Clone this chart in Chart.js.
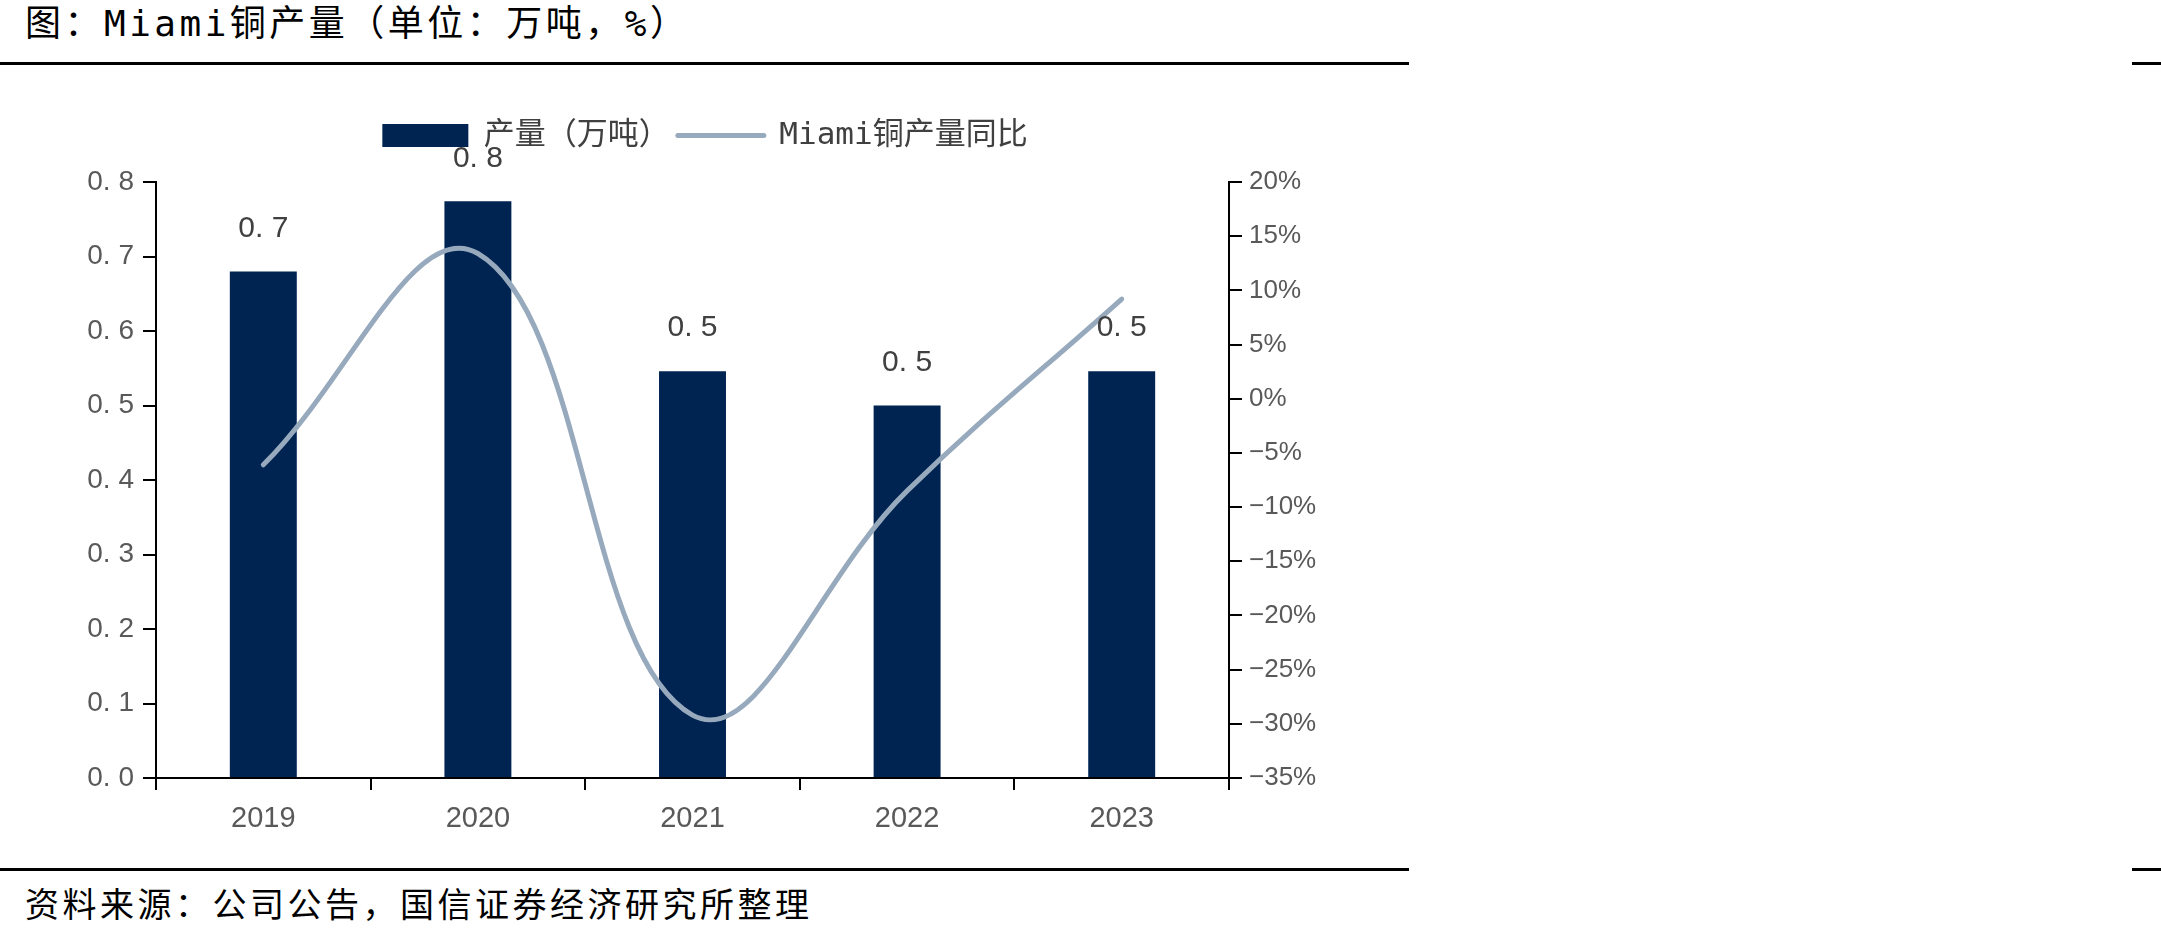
<!DOCTYPE html>
<html>
<head>
<meta charset="utf-8">
<script src="https://cdn.jsdelivr.net/npm/chart.js@4.4.0/dist/chart.umd.min.js"></script>
<style>
  html, body { margin: 0; padding: 0; background: #fff; }
  body { width: 2161px; height: 941px; position: relative; overflow: hidden; }
  .txt { position: absolute; white-space: nowrap; color: #000;
         font-family: "DejaVu Sans Mono", "Noto Sans CJK SC", sans-serif; }
  #title { left: 25px; top: 4px; font-size: 36px; line-height: 40px; letter-spacing: 3.5px; }
  #source { left: 25px; top: 885px; font-size: 34px; line-height: 40px; letter-spacing: 3.5px; }
  .rule { position: absolute; background: #000; height: 3px; }
  #chartBox { position: absolute; left: 0; top: 0; width: 1410px; height: 868px; }
</style>
</head>
<body>
<div id="title" class="txt">图：Miami铜产量（单位：万吨，%）</div>
<div class="rule" style="left:0;top:62px;width:1409px;"></div>
<div class="rule" style="left:2132px;top:62px;width:29px;"></div>
<div id="chartBox"><canvas id="c" width="1410" height="868"></canvas></div>
<div class="rule" style="left:0;top:868px;width:1409px;"></div>
<div class="rule" style="left:2132px;top:868px;width:29px;"></div>
<div id="source" class="txt">资料来源：公司公告，国信证券经济研究所整理</div>

<script>
// ---- data ----
const categories = ['2019', '2020', '2021', '2022', '2023'];
const outputLabel = '产量（万吨）';
const yoyLabel = 'Miami铜产量同比';
const output = [0.68, 0.774, 0.546, 0.50, 0.546];      // 万吨
const yoy = [-6.1, 13.4, -29.2, -8.5, 9.2];            // %
const leftTicks = { min: 0, max: 0.8, step: 0.1 };
const rightTicks = { min: -35, max: 20, step: 5 };

// ---- styling ----
const BAR_COLOR = '#002452';
const LINE_COLOR = '#97A9BC';
const TICK_COLOR = '#595959';
const LABEL_COLOR = '#404040';
const CANVAS_W = 1410, CANVAS_H = 868;
const AXIS_LEFT = 156, AXIS_RIGHT = 1229, AXIS_BOTTOM = 778, AXIS_TOP = 182;
const LEGEND_FONT = 31, LEGEND_PAD = 8, LEGEND_CENTER = 135;
const LAYOUT_TOP = Math.round(LEGEND_CENTER - LEGEND_PAD - LEGEND_FONT / 2);

const fmtDec = v => v.toFixed(1).replace('.', '. ');
const fmtPct = v => (v < 0 ? '\u2212' + Math.abs(v) : String(v)) + '%';

const legendSpacer = {
  id: 'legendSpacer',
  afterInit(chart) {
    const lg = chart.legend;
    const origFit = lg.fit;
    lg.fit = function () {
      origFit.call(this);
      this.height = AXIS_TOP - LAYOUT_TOP;
    };
  }
};

const valueLabels = {
  id: 'valueLabels',
  afterDatasetsDraw(chart) {
    const meta = chart.getDatasetMeta(0);
    const ctx = chart.ctx;
    ctx.save();
    ctx.font = '30px "Liberation Sans", Arial, sans-serif';
    ctx.fillStyle = LABEL_COLOR;
    ctx.textAlign = 'center';
    ctx.textBaseline = 'middle';
    meta.data.forEach((bar, i) => {
      ctx.fillText(fmtDec(output[i]), bar.x, bar.y - 43);
    });
    ctx.restore();
  }
};

new Chart(document.getElementById('c'), {
  data: {
    labels: categories,
    datasets: [
      {
        type: 'bar', label: outputLabel, data: output, yAxisID: 'y',
        backgroundColor: BAR_COLOR, borderWidth: 0, order: 1,
        categoryPercentage: 0.312, barPercentage: 1
      },
      {
        type: 'line', label: yoyLabel, data: yoy, yAxisID: 'y1',
        borderColor: LINE_COLOR, backgroundColor: LINE_COLOR, borderWidth: 5,
        borderCapStyle: 'round', tension: 0.4, pointRadius: 0, pointHoverRadius: 0,
        fill: false, order: 0
      }
    ]
  },
  options: {
    responsive: false,
    animation: false,
    devicePixelRatio: 1,
    layout: { padding: { top: LAYOUT_TOP, left: 0, right: 0, bottom: 0 } },
    plugins: {
      tooltip: { enabled: false },
      legend: {
        display: true, position: 'top', align: 'center',
        labels: {
          usePointStyle: true, pointStyleWidth: 86, boxHeight: 23, padding: LEGEND_PAD,
          color: LABEL_COLOR,
          font: { size: LEGEND_FONT, family: '"DejaVu Sans Mono", "Noto Sans CJK SC", sans-serif' },
          generateLabels(chart) {
            const items = Chart.defaults.plugins.legend.labels.generateLabels(chart);
            items.forEach(it => {
              const ds = chart.data.datasets[it.datasetIndex];
              if (ds.type === 'line') {
                it.pointStyle = 'line'; it.lineWidth = 5;
                it.strokeStyle = ds.borderColor; it.fillStyle = ds.borderColor;
                it.lineCap = 'round';
              } else {
                it.pointStyle = 'rect'; it.lineWidth = 0;
                it.fillStyle = ds.backgroundColor; it.strokeStyle = ds.backgroundColor;
              }
            });
            return items.sort((a, b) => a.datasetIndex - b.datasetIndex);
          }
        }
      }
    },
    scales: {
      x: {
        type: 'category', offset: true,
        grid: { display: true, drawOnChartArea: false, drawTicks: true, tickLength: 12, color: '#000', lineWidth: 2, offset: true },
        border: { display: true, color: '#000', width: 2 },
        ticks: { color: TICK_COLOR, font: { size: 29, family: '"Liberation Sans", Arial, sans-serif' }, padding: 12 },
        afterFit(scale) { scale.height = CANVAS_H - AXIS_BOTTOM; }
      },
      y: {
        type: 'linear', position: 'left',
        min: leftTicks.min, max: leftTicks.max,
        grid: { display: true, drawOnChartArea: false, drawTicks: true, tickLength: 13, color: '#000', lineWidth: 2 },
        border: { display: true, color: '#000', width: 2 },
        ticks: { stepSize: leftTicks.step, color: TICK_COLOR, padding: 9,
                 font: { size: 28, family: '"Liberation Sans", Arial, sans-serif' },
                 callback: v => fmtDec(v) },
        afterFit(scale) { scale.width = AXIS_LEFT; }
      },
      y1: {
        type: 'linear', position: 'right',
        min: rightTicks.min, max: rightTicks.max,
        grid: { display: true, drawOnChartArea: false, drawTicks: true, tickLength: 13, color: '#000', lineWidth: 2 },
        border: { display: true, color: '#000', width: 2 },
        ticks: { stepSize: rightTicks.step, color: TICK_COLOR, padding: 7,
                 font: { size: 26, family: '"Liberation Sans", Arial, sans-serif' },
                 callback: v => fmtPct(v) },
        afterFit(scale) { scale.width = CANVAS_W - AXIS_RIGHT; }
      }
    }
  },
  plugins: [legendSpacer, valueLabels]
});
</script>
</body>
</html>
